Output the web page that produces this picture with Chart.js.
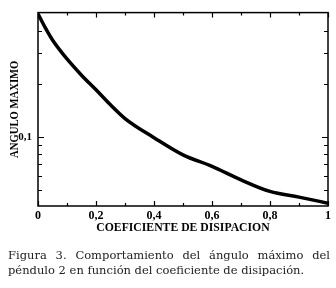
<!DOCTYPE html>
<html>
<head>
<meta charset="utf-8">
<script src="https://cdn.jsdelivr.net/npm/chart.js@4"></script>
<style>
  body { margin: 0; background: #fff; width: 336px; height: 288px; overflow: hidden; position: relative; }
  #wrap { position: absolute; left: 0; top: 0; width: 336px; height: 234px; }
  #xtitle { position: absolute; left: 38px; top: 219px; width: 290px; text-align: center; font: bold 13px "Liberation Serif", serif; line-height: 15px; color: #000; transform: scaleX(0.9); transform-origin: 145px 0; white-space: nowrap; }
  #caption { position: absolute; left: 8px; top: 248px; width: 322px; font-family: "DejaVu Serif", serif; font-size: 11.5px; line-height: 15px; color: #222; }
  #caption div { white-space: nowrap; }
  #caption .l1 { text-align: justify; text-align-last: justify; white-space: normal; }
</style>
</head>
<body>
<div id="wrap"><canvas id="chart" width="336" height="234"></canvas></div>
<div id="xtitle">COEFICIENTE DE DISIPACION</div>
<div id="caption">
  <div class="l1">Figura 3. Comportamiento del ángulo máximo del</div>
  <div>péndulo 2 en función del coeficiente de disipación.</div>
</div>
<script>
// coeficiente de disipacion vs angulo maximo
const coef  = [0, 0.025, 0.05, 0.1, 0.15, 0.2, 0.25, 0.3, 0.4, 0.5, 0.6, 0.7, 0.8, 0.9, 1];
const angle = [0.5, 0.417, 0.355, 0.277, 0.224, 0.185, 0.152, 0.127, 0.099, 0.079, 0.068, 0.057, 0.049, 0.0455, 0.042];
const yTicks = [0.05, 0.06, 0.07, 0.08, 0.09, 0.1, 0.2, 0.3, 0.4];
const xTicks = [0, 0.1, 0.2, 0.3, 0.4, 0.5, 0.6, 0.7, 0.8, 0.9, 1];
const yTitle = 'ANGULO MAXIMO';

const serif = '"Liberation Serif", "Times New Roman", serif';

// frame, inward tick marks on all four sides, y title
const frame = {
  id: 'frame',
  afterDraw(chart) {
    const { ctx, chartArea: a, scales: { x, y } } = chart;
    ctx.save();
    ctx.strokeStyle = '#000';
    ctx.lineWidth = 1.5;
    ctx.strokeRect(a.left, a.top, a.right - a.left, a.bottom - a.top);
    ctx.lineWidth = 1.2;
    ctx.beginPath();
    xTicks.forEach((v, i) => {
      const px = Math.round(x.getPixelForValue(v)) + 0.5;
      const len = i % 2 === 0 ? 5 : 3;
      ctx.moveTo(px, a.bottom); ctx.lineTo(px, a.bottom - len);
      ctx.moveTo(px, a.top); ctx.lineTo(px, a.top + len);
    });
    yTicks.forEach(v => {
      const py = Math.round(y.getPixelForValue(v)) + 0.5;
      const len = v === 0.1 ? 6 : 4;
      ctx.moveTo(a.left, py); ctx.lineTo(a.left + len, py);
      ctx.moveTo(a.right, py); ctx.lineTo(a.right - len, py);
    });
    ctx.stroke();

    // condensed vertical title
    ctx.fillStyle = '#000';
    ctx.textAlign = 'center';
    ctx.textBaseline = 'middle';
    ctx.translate(15, (a.top + a.bottom) / 2);
    ctx.rotate(-Math.PI / 2);
    ctx.scale(0.82, 1);
    ctx.font = 'bold 13px ' + serif;
    ctx.fillText(yTitle, 0, 0);
    ctx.restore();
  }
};

new Chart(document.getElementById('chart'), {
  type: 'line',
  data: {
    datasets: [{
      data: coef.map((c, i) => ({ x: c, y: angle[i] })),
      borderColor: '#000',
      borderWidth: 3.5,
      pointRadius: 0,
      cubicInterpolationMode: 'monotone',
      fill: false
    }]
  },
  options: {
    responsive: false,
    animation: false,
    layout: { padding: { left: 9, top: 4, right: 8, bottom: 0 } },
    plugins: { legend: { display: false }, tooltip: { enabled: false } },
    scales: {
      x: {
        type: 'linear',
        min: 0, max: 1,
        grid: { display: false, drawTicks: false },
        border: { display: false },
        afterBuildTicks: s => { s.ticks = xTicks.map(v => ({ value: v })); },
        afterFit: s => { s.height = 28; },
        ticks: {
          autoSkip: false,
          maxRotation: 0,
          padding: 3,
          color: '#000',
          font: { family: serif, size: 12, weight: 'bold' },
          callback: v => (Math.round(v * 10) % 2 === 0 ? String(+v.toFixed(1)).replace('.', ',') : '')
        }
      },
      y: {
        type: 'logarithmic',
        min: 0.0405, max: 0.508,
        grid: { display: false, drawTicks: false },
        border: { display: false },
        afterBuildTicks: s => { s.ticks = yTicks.map(v => ({ value: v })); },
        afterFit: s => { s.width = 29; },
        ticks: {
          autoSkip: false,
          padding: 6,
          color: '#000',
          font: { family: serif, size: 11, weight: 'bold' },
          callback: v => (v === 0.1 ? '0,1' : '')
        }
      }
    }
  },
  plugins: [frame]
});
</script>
</body>
</html>
